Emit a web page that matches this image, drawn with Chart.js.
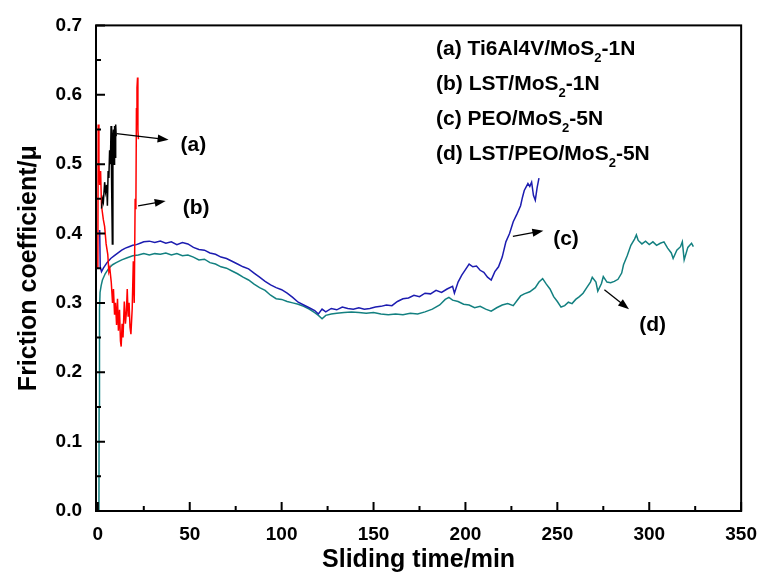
<!DOCTYPE html>
<html>
<head>
<meta charset="utf-8">
<script src="https://cdn.jsdelivr.net/npm/chart.js@4.4.0/dist/chart.umd.min.js"></script>
<style>
	body { margin: 0; background: #fff; }
	#chart { display: block; }
</style>
</head>
<body>
<canvas id="chart" width="769" height="573"></canvas>
<script>
// tick labels
var xTicks = [0, 50, 100, 150, 200, 250, 300, 350];
var yTicks = [0.0, 0.1, 0.2, 0.3, 0.4, 0.5, 0.6, 0.7];

var seriesNames = ['(a) Ti6Al4V/MoS_2-1N', '(b) LST/MoS_2-1N', '(c) PEO/MoS_2-5N', '(d) LST/PEO/MoS_2-5N'];
var calloutText = ['(a)', '(b)', '(c)', '(d)'];

// (a) Ti6Al4V/MoS2-1N
var timeA = [2, 2.5, 3, 3.7, 4.2, 4.8, 5.2, 5.6, 6, 6.4,
	6.8, 7.2, 7.5, 7.9, 8.2, 8.5, 8.8, 9.1, 9.4, 9.7,
	10];
var muA = [0.436, 0.450, 0.445, 0.474, 0.460, 0.470, 0.440, 0.490, 0.480, 0.520,
	0.500, 0.555, 0.470, 0.385, 0.540, 0.550, 0.500, 0.555, 0.510, 0.557,
	0.540];

// (b) LST/MoS2-1N
var timeB = [0, 0.2, 0.6, 1, 1.5, 2, 3, 3.7, 4.5, 5.4,
	6, 6.5, 7.3, 8, 8.5, 9.1, 9.6, 10.2, 10.7, 11.2,
	11.8, 12.3, 12.7, 13.2, 13.7, 14.4, 15, 15.5, 16, 16.5,
	17, 17.5, 18, 18.7, 19.3, 19.8, 20.3, 20.7, 21, 21.3,
	21.6, 21.8, 22.1];
var muB = [0.350, 0.557, 0.500, 0.470, 0.490, 0.440, 0.420, 0.410, 0.385, 0.370,
	0.345, 0.350, 0.330, 0.300, 0.320, 0.283, 0.300, 0.268, 0.306, 0.260,
	0.290, 0.245, 0.237, 0.270, 0.250, 0.302, 0.270, 0.285, 0.320, 0.280,
	0.300, 0.265, 0.255, 0.292, 0.360, 0.300, 0.450, 0.435, 0.580, 0.610,
	0.625, 0.550, 0.536];

// (c) PEO/MoS2-5N
var timeC = [1, 1.3, 2, 3, 5, 7, 9, 11, 13, 15,
	17, 19, 21, 23, 25, 28, 31, 34, 37, 40,
	43, 46, 49, 52, 55, 58, 61, 64, 67, 70,
	73, 76, 79, 82, 85, 88, 91, 94, 97, 100,
	103, 106, 109, 112, 115, 118, 120, 122, 124, 127,
	130, 133, 136, 139, 142, 145, 148, 151, 154, 157,
	160, 163, 166, 169, 172, 175, 178, 181, 184, 187,
	190, 193, 194, 196, 198, 200, 202, 204, 206, 208,
	210, 212, 214, 216, 218, 220, 222, 224, 226, 228,
	230, 231, 232, 234, 235, 236, 237, 238, 239, 240];
var muC = [0.405, 0.352, 0.345, 0.350, 0.358, 0.364, 0.368, 0.372, 0.376, 0.379,
	0.381, 0.383, 0.384, 0.386, 0.388, 0.389, 0.387, 0.389, 0.386, 0.388,
	0.384, 0.387, 0.385, 0.380, 0.377, 0.376, 0.372, 0.370, 0.366, 0.364,
	0.360, 0.356, 0.352, 0.349, 0.343, 0.337, 0.331, 0.326, 0.322, 0.319,
	0.314, 0.308, 0.301, 0.297, 0.293, 0.289, 0.284, 0.291, 0.287, 0.292,
	0.290, 0.294, 0.292, 0.291, 0.293, 0.291, 0.292, 0.294, 0.295, 0.297,
	0.296, 0.302, 0.306, 0.307, 0.311, 0.309, 0.314, 0.313, 0.318, 0.315,
	0.320, 0.324, 0.314, 0.330, 0.340, 0.348, 0.356, 0.352, 0.353, 0.347,
	0.344, 0.337, 0.333, 0.345, 0.352, 0.366, 0.388, 0.400, 0.417, 0.428,
	0.440, 0.452, 0.462, 0.472, 0.468, 0.474, 0.455, 0.448, 0.466, 0.480];

// (d) LST/PEO/MoS2-5N
var timeD = [0.6, 0.7, 0.9, 1.2, 1.8, 2.5, 4, 6, 8, 10,
	13, 16, 19, 22, 25, 28, 31, 34, 37, 40,
	43, 46, 49, 52, 55, 58, 61, 64, 67, 70,
	73, 76, 79, 82, 85, 88, 91, 94, 97, 100,
	103, 106, 109, 112, 115, 118, 120, 122, 124, 127,
	130, 134, 138, 142, 146, 150, 154, 158, 162, 166,
	170, 174, 178, 182, 186, 189, 191, 193, 196, 199,
	202, 205, 208, 211, 214, 217, 220, 223, 226, 228,
	230, 232, 235, 238, 240, 242, 244, 246, 248, 250,
	252, 254, 256, 258, 260, 262, 264, 266, 268, 269,
	271, 272, 274, 275, 277, 279, 281, 283, 285, 286,
	288, 290, 292, 293, 294, 296, 298, 300, 302, 304,
	306, 308, 310, 312, 313, 315, 317, 318, 319, 321,
	323, 324];
var muD = [0.000, 0.150, 0.290, 0.315, 0.325, 0.333, 0.342, 0.350, 0.355, 0.358,
	0.362, 0.365, 0.368, 0.369, 0.371, 0.369, 0.371, 0.370, 0.372, 0.369,
	0.371, 0.368, 0.369, 0.366, 0.362, 0.363, 0.358, 0.356, 0.352, 0.350,
	0.346, 0.342, 0.337, 0.333, 0.327, 0.322, 0.318, 0.311, 0.306, 0.305,
	0.302, 0.300, 0.298, 0.295, 0.291, 0.286, 0.282, 0.277, 0.282, 0.284,
	0.285, 0.286, 0.287, 0.286, 0.285, 0.286, 0.284, 0.283, 0.284, 0.283,
	0.285, 0.284, 0.287, 0.291, 0.297, 0.305, 0.308, 0.304, 0.302, 0.298,
	0.297, 0.293, 0.295, 0.291, 0.288, 0.293, 0.297, 0.299, 0.296, 0.303,
	0.310, 0.313, 0.316, 0.322, 0.330, 0.335, 0.327, 0.320, 0.309, 0.302,
	0.294, 0.296, 0.301, 0.299, 0.305, 0.309, 0.314, 0.322, 0.330, 0.337,
	0.330, 0.317, 0.328, 0.338, 0.330, 0.329, 0.331, 0.334, 0.343, 0.355,
	0.368, 0.383, 0.392, 0.398, 0.390, 0.385, 0.389, 0.384, 0.388, 0.383,
	0.386, 0.388, 0.379, 0.372, 0.364, 0.376, 0.381, 0.388, 0.362, 0.380,
	0.386, 0.381];

// callout arrows (data units): [fromX, fromY, toX, toY], label position
var arrowFrom = [[10.2, 0.544], [21.9, 0.440], [225.8, 0.396], [275.6, 0.319]];
var arrowTo = [[38.5, 0.535], [36.9, 0.447], [242.4, 0.404], [289, 0.291]];
var calloutPos = [[52, 0.527], [53.5, 0.436], [254.7, 0.392], [301.8, 0.268]];

var colors = ['#000000', '#ff0000', '#1c1cb0', '#138080'];

function toPoints(xs, ys) {
	var pts = [];
	for (var i = 0; i < xs.length; i++) {
		pts.push({x: xs[i], y: ys[i]});
	}
	return pts;
}

var fontFamily = 'Arial, "Liberation Sans", sans-serif';

function drawRich(c, label, x, y, size) {
	// "_2" means subscript 2
	var parts = label.split('_');
	c.textAlign = 'left';
	c.textBaseline = 'middle';
	c.font = 'bold ' + size + 'px ' + fontFamily;
	c.fillText(parts[0], x, y);
	x += c.measureText(parts[0]).width;
	if (parts.length > 1) {
		var sub = parts[1].charAt(0);
		var rest = parts[1].slice(1);
		c.font = 'bold ' + Math.round(size * 0.62) + 'px ' + fontFamily;
		c.fillText(sub, x, y + 9);
		x += c.measureText(sub).width;
		c.font = 'bold ' + size + 'px ' + fontFamily;
		c.fillText(rest, x, y);
	}
}

var framePlugin = {
	id: 'frame',
	afterDraw: function(chart) {
		var c = chart.ctx;
		var a = chart.chartArea;
		var xs = chart.scales.x;
		var ys = chart.scales.y;
		c.save();
		c.strokeStyle = '#000';
		c.lineWidth = 2;
		c.strokeRect(a.left, a.top, a.right - a.left, a.bottom - a.top);

		// inward ticks, major and minor
		c.beginPath();
		for (var i = 0; i < xTicks.length; i++) {
			var px = xs.getPixelForValue(xTicks[i]);
			c.moveTo(px, a.bottom);
			c.lineTo(px, a.bottom - 9);
			if (i < xTicks.length - 1) {
				var pm = xs.getPixelForValue((xTicks[i] + xTicks[i + 1]) / 2);
				c.moveTo(pm, a.bottom);
				c.lineTo(pm, a.bottom - 5);
			}
		}
		for (var j = 0; j < yTicks.length; j++) {
			var py = ys.getPixelForValue(yTicks[j]);
			c.moveTo(a.left, py);
			c.lineTo(a.left + 9, py);
			if (j < yTicks.length - 1) {
				var qm = ys.getPixelForValue((yTicks[j] + yTicks[j + 1]) / 2);
				c.moveTo(a.left, qm);
				c.lineTo(a.left + 5, qm);
			}
		}
		c.stroke();

		// callout arrows
		c.lineWidth = 1.3;
		c.fillStyle = '#000';
		for (var k = 0; k < arrowFrom.length; k++) {
			var x1 = xs.getPixelForValue(arrowFrom[k][0]);
			var y1 = ys.getPixelForValue(arrowFrom[k][1]);
			var x2 = xs.getPixelForValue(arrowTo[k][0]);
			var y2 = ys.getPixelForValue(arrowTo[k][1]);
			var ang = Math.atan2(y2 - y1, x2 - x1);
			c.beginPath();
			c.moveTo(x1, y1);
			c.lineTo(x2 - 8 * Math.cos(ang), y2 - 8 * Math.sin(ang));
			c.stroke();
			c.beginPath();
			c.moveTo(x2, y2);
			c.lineTo(x2 - 11 * Math.cos(ang) + 4 * Math.sin(ang), y2 - 11 * Math.sin(ang) - 4 * Math.cos(ang));
			c.lineTo(x2 - 11 * Math.cos(ang) - 4 * Math.sin(ang), y2 - 11 * Math.sin(ang) + 4 * Math.cos(ang));
			c.closePath();
			c.fill();

			c.font = 'bold 21px ' + fontFamily;
			c.textAlign = 'center';
			c.textBaseline = 'middle';
			c.fillText(calloutText[k], xs.getPixelForValue(calloutPos[k][0]), ys.getPixelForValue(calloutPos[k][1]));
		}

		// legend text block
		for (var n = 0; n < seriesNames.length; n++) {
			drawRich(c, seriesNames[n], a.left + 340, a.top + 24 + n * 35, 21);
		}
		c.restore();
	}
};

var ctx = document.getElementById('chart');

var chartdata = {
	datasets: [
		{ label: seriesNames[0], data: toPoints(timeA, muA), borderColor: colors[0], borderWidth: 1.5 },
		{ label: seriesNames[1], data: toPoints(timeB, muB), borderColor: colors[1], borderWidth: 1.5 },
		{ label: seriesNames[2], data: toPoints(timeC, muC), borderColor: colors[2], borderWidth: 1.5 },
		{ label: seriesNames[3], data: toPoints(timeD, muD), borderColor: colors[3], borderWidth: 1.5 }
	]
};

var tickFont = { family: fontFamily, size: 19, weight: 'bold' };
var titleFont = { family: fontFamily, size: 25, weight: 'bold', lineHeight: 1 };

new Chart(ctx, {
	type: 'line',
	data: chartdata,
	options: {
		responsive: false,
		animation: false,
		devicePixelRatio: 1,
		layout: { padding: { top: 22, right: 17, left: 0, bottom: 0 } },
		elements: {
			point: { radius: 0 },
			line: { tension: 0, fill: false }
		},
		plugins: {
			legend: { display: false },
			tooltip: { enabled: false }
		},
		scales: {
			x: {
				type: 'linear',
				min: -1,
				max: 350,
				grid: { display: false, drawTicks: false },
				border: { display: false },
				afterBuildTicks: function(s) {
					s.ticks = xTicks.map(function(v) { return {value: v}; });
				},
				afterFit: function(s) { s.height = 62; },
				ticks: { color: '#000', font: tickFont, padding: 12, maxRotation: 0, autoSkip: false },
				title: { display: true, text: 'Sliding time/min', color: '#000', font: titleFont, padding: 0 }
			},
			y: {
				min: 0,
				max: 0.7,
				grid: { display: false, drawTicks: false },
				border: { display: false },
				afterBuildTicks: function(s) {
					s.ticks = yTicks.map(function(v) { return {value: v}; });
				},
				afterFit: function(s) { s.width = 96; },
				ticks: {
					color: '#000', font: tickFont, padding: 14, autoSkip: false,
					callback: function(v) { return v.toFixed(1); }
				},
				title: { display: true, text: 'Friction coefficient/μ', color: '#000', font: titleFont, padding: { top: 17, bottom: 0 } }
			}
		}
	},
	plugins: [framePlugin]
});
</script>
</body>
</html>
